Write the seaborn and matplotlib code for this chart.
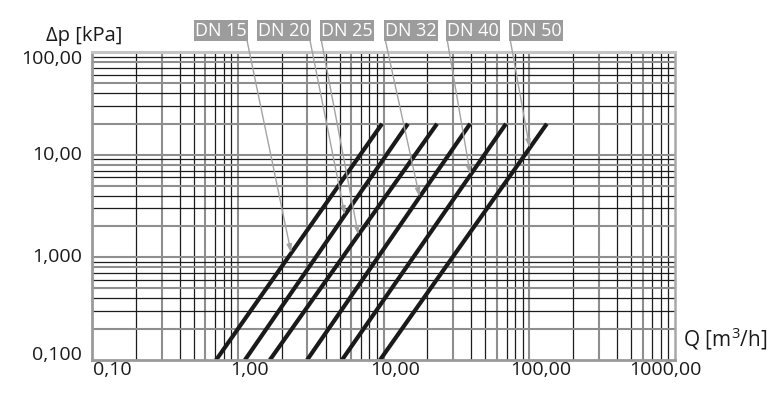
import numpy as np
import pandas as pd
import matplotlib
matplotlib.use("Agg")
import matplotlib.pyplot as plt
import matplotlib.transforms as mtrans
from matplotlib.ticker import FixedLocator, NullLocator
import seaborn as sns

# ---------------- data ----------------
dn_labels = ["DN 15", "DN 20", "DN 25", "DN 32", "DN 40", "DN 50"]
q_at_dp_min = [0.71, 1.12, 1.66, 2.99, 5.19, 9.46]      # m3/h at 0.1 kPa
q_at_dp_max = [9.77, 14.7, 23.3, 39.3, 69.2, 132.0]     # m3/h at 20 kPa
dp_range = [0.1, 20.0]                                  # kPa
dp_pointer = [1.10, 2.58, 1.65, 3.87, 6.34, 11.6]       # where each leader touches its line

x_ticks = [0.1, 1, 10, 100, 1000]
x_tick_labels = ["0,10", "1,00", "10,00", "100,00", "1000,00"]
y_ticks = [0.1, 1, 10, 100]
y_tick_labels = ["0,100", "1,000", "10,00", "100,00"]

# ---------------- layout ----------------
W, H = 780, 404
box_cx = [221, 284, 347, 411, 473, 536]   # label box centres (px)
box_cy = 30.5
box_relpos = [(1, 0), (1, 0), (0, 0), (0, 0), (0, 0), (0, 0)]
xlab_dx = [20, 12, 12, 11, -10]           # px offsets of x tick labels
ylab_dy = [7, 2, 2, -5]                   # px offsets of y tick labels


def fpx(x, y):
    return (x / W, 1 - y / H)


rows = []
for name, q0, q1 in zip(dn_labels, q_at_dp_min, q_at_dp_max):
    rows.append({"DN": name, "Q": q0, "dp": dp_range[0]})
    rows.append({"DN": name, "Q": q1, "dp": dp_range[1]})
df = pd.DataFrame(rows)

sns.set_style("white")
plt.rcParams["font.family"] = ["Open Sans", "DejaVu Sans"]
plt.rcParams["mathtext.fontset"] = "custom"
plt.rcParams["mathtext.rm"] = "Open Sans"
plt.rcParams["mathtext.it"] = "Open Sans"

fig = plt.figure(figsize=(W / 100, H / 100), dpi=100)
ax = fig.add_axes([92 / W, (H - 360) / H, (675 - 92) / W, (360 - 52) / H])
ax.set_xscale("log")
ax.set_yscale("log")
ax.set_xlim(0.1, 1000)
ax.set_ylim(0.1, 100)
ax.grid(False)

# grid lines
black = "#1c1c1c"
grey = "#8e8e8e"
for k in range(-1, 3):
    for m in range(1, 10):
        v = m * 10.0 ** k
        if v <= 0.1 or v >= 1000:
            continue
        is_grey = m in (1, 3, 6)
        ax.axvline(v, color=grey if is_grey else black,
                   lw=1.5 if is_grey else 0.9, zorder=1)
for k in range(-1, 2):
    for m in range(1, 10):
        v = m * 10.0 ** k
        if v <= 0.1 or v >= 100:
            continue
        is_grey = m in (1, 2, 5, 8)
        ax.axhline(v, color=grey if is_grey else black,
                   lw=1.5 if is_grey else 0.9, zorder=1)

sns.lineplot(data=df, x="Q", y="dp", hue="DN", palette=["#1a1a1a"] * len(dn_labels),
             legend=False, linewidth=3.0, ax=ax, zorder=3, solid_capstyle="butt")

ax.set_xlim(0.1, 1000)
ax.set_ylim(0.1, 100)
ax.set_xlabel("")
ax.set_ylabel("")

ax.xaxis.set_major_locator(FixedLocator(x_ticks))
ax.xaxis.set_minor_locator(NullLocator())
ax.set_xticklabels(x_tick_labels)
ax.yaxis.set_major_locator(FixedLocator(y_ticks))
ax.yaxis.set_minor_locator(NullLocator())
ax.set_yticklabels(y_tick_labels)
ax.tick_params(axis="both", length=0, labelsize=14, colors="#1a1a1a")
ax.tick_params(axis="x", pad=1)
ax.tick_params(axis="y", pad=7)

for lab, dx in zip(ax.get_xticklabels(), xlab_dx):
    lab.set_transform(lab.get_transform() +
                      mtrans.ScaledTranslation(dx / 100, 0, fig.dpi_scale_trans))
for lab, dy in zip(ax.get_yticklabels(), ylab_dy):
    lab.set_transform(lab.get_transform() +
                      mtrans.ScaledTranslation(0, dy / 100, fig.dpi_scale_trans))

for side in ("left", "bottom"):
    ax.spines[side].set_color("#9a9a9a")
    ax.spines[side].set_linewidth(2.0)
ax.spines["right"].set_color("#a8a8a8")
ax.spines["right"].set_linewidth(1.8)
ax.spines["top"].set_color("#c4c4c4")
ax.spines["top"].set_linewidth(2.2)
for s in ax.spines.values():
    s.set_zorder(4)

# axis titles
fig.text(*fpx(84, 41), "Δp [kPa]", ha="center", va="baseline", fontsize=14.5, color="#1a1a1a")
fig.text(*fpx(683, 346), "Q [m$^{3}$/h]", ha="left", va="baseline", fontsize=15, color="#1a1a1a")

# labels with leader lines
for name, q0, q1, dpp, cx, rp in zip(dn_labels, q_at_dp_min, q_at_dp_max,
                                     dp_pointer, box_cx, box_relpos):
    lq = np.interp(np.log10(dpp), np.log10(dp_range), np.log10([q0, q1]))
    ax.annotate(name, xy=(10 ** lq, dpp), xycoords="data",
                xytext=fpx(cx, box_cy), textcoords="figure fraction",
                ha="center", va="center", fontsize=13, color="white",
                bbox=dict(boxstyle="square,pad=0.08", fc="#9c9c9c", ec="none"),
                arrowprops=dict(arrowstyle="-|>,head_length=0.5,head_width=0.15",
                                color="#a3a3a3", lw=1.0, shrinkA=0, shrinkB=0,
                                relpos=rp, mutation_scale=10),
                annotation_clip=False, zorder=5)

fig.savefig("out.png", dpi=100)
